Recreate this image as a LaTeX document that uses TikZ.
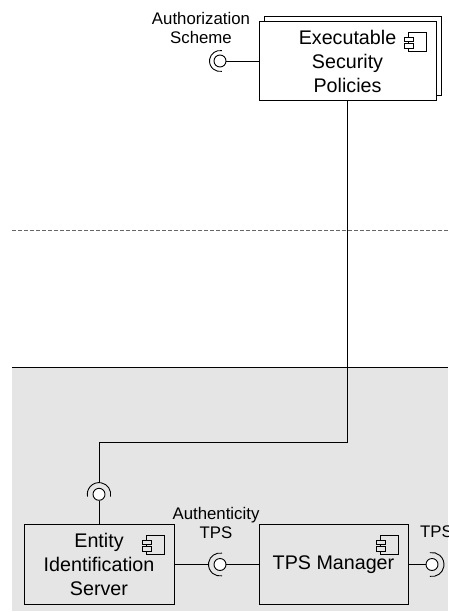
\documentclass[tikz,border=0pt]{standalone}
\usepackage{fontspec}
\setmainfont{Liberation Sans}
\begin{document}
\begin{tikzpicture}[x=1pt,y=1pt,
  comp/.style={draw=black, line width=0.9pt, inner sep=0pt, align=center,
    font=\fontsize{19.7}{24}\selectfont},
  ball/.style={circle, draw=black, fill=white, line width=0.9pt, inner sep=0pt,
    minimum size=12pt},
  lbl/.style={inner sep=0pt, align=center, font=\fontsize{16.8}{19}\selectfont},
  wire/.style={line width=0.9pt},
  socket/.style={line width=0.9pt},
  compicon/.pic={
    \draw[line width=0.7pt] (-18,-5) -- (-18,0) -- (0,0) -- (0,-19) -- (-18,-19) -- (-18,-16)
      (-18,-9.5) -- (-18,-11.5);
    \draw[line width=0.7pt] (-22.5,-5) rectangle (-13.5,-9.5)
      (-22.5,-11.5) rectangle (-13.5,-16);
  }]
\useasboundingbox (0,0) rectangle (448,-612);

% lower package area and layer separators
\fill[black!10] (12,-367.7) rectangle (448,-610.5);
\draw[line width=1.2pt] (12,-367.7) -- (448,-367.7);
\draw[black!60, line width=0.8pt, dash pattern=on 4pt off 2pt] (12,-230.7) -- (448,-230.7);

% components
\node[comp, fill=white, minimum width=177pt, minimum height=79pt] (espback) at (352.5,-55.5) {};
\node[comp, fill=white, minimum width=177pt, minimum height=79pt] (esp) at (347.5,-61)
  {Executable\\Security\\Policies};
\pic at ([shift={(-10,-11)}]esp.north east) {compicon};

\node[comp, minimum width=150pt, minimum height=80pt] (eis) at (99,-564.5)
  {Entity\\Identification\\Server};
\pic at ([shift={(-10,-11)}]eis.north east) {compicon};

\node[comp, minimum width=149pt, minimum height=80pt] (tpsm) at (333.5,-564.5) {TPS Manager};
\pic at ([shift={(-10,-11)}]tpsm.north east) {compicon};

% provided interfaces (balls)
\node[ball] (authball) at (220,-61) {};
\node[ball] (eisball) at (99,-494.3) {};
\node[ball] (atpsball) at (220,-564.5) {};
\node[ball] (tpsball) at (432,-564.5) {};

% required interfaces (sockets)
\draw[socket] (authball.center) ++(80:10.5) arc[start angle=80, end angle=280, radius=10.5];
\draw[socket] (eisball.center) ++(-11:11.7) arc[start angle=-11, end angle=191, radius=11.7];
\draw[socket] (atpsball.center) ++(80:11.5) arc[start angle=80, end angle=280, radius=11.5];
\draw[socket] (tpsball.center) ++(-100:12) arc[start angle=-100, end angle=100, radius=12];
\coordinate (eisreq) at ([yshift=11.7pt]eisball.center);
\coordinate (atpsreq) at ([xshift=-11.5pt]atpsball.center);

% interface labels
\node[lbl] (authlbl) at (201,-27.7) {Authorization\\Scheme};
\node[lbl] (atpslbl) at (216,-523.4) {Authenticity\\TPS};
\node[lbl, anchor=base west] (tpslbl) at (420,-537) {TPS};

% connectors
\coordinate (elbow) at (99,-442.7);
\draw[wire] (esp.south) |- (elbow) -- (eisreq);
\draw[wire] (eisball) -- (eis.north);
\draw[wire] (authball) -- (esp.west);
\draw[wire] (eis.east) -- (atpsreq);
\draw[wire] (atpsball) -- (tpsm.west);
\draw[wire] (tpsm) -- (tpsball);
\end{tikzpicture}
\end{document}
